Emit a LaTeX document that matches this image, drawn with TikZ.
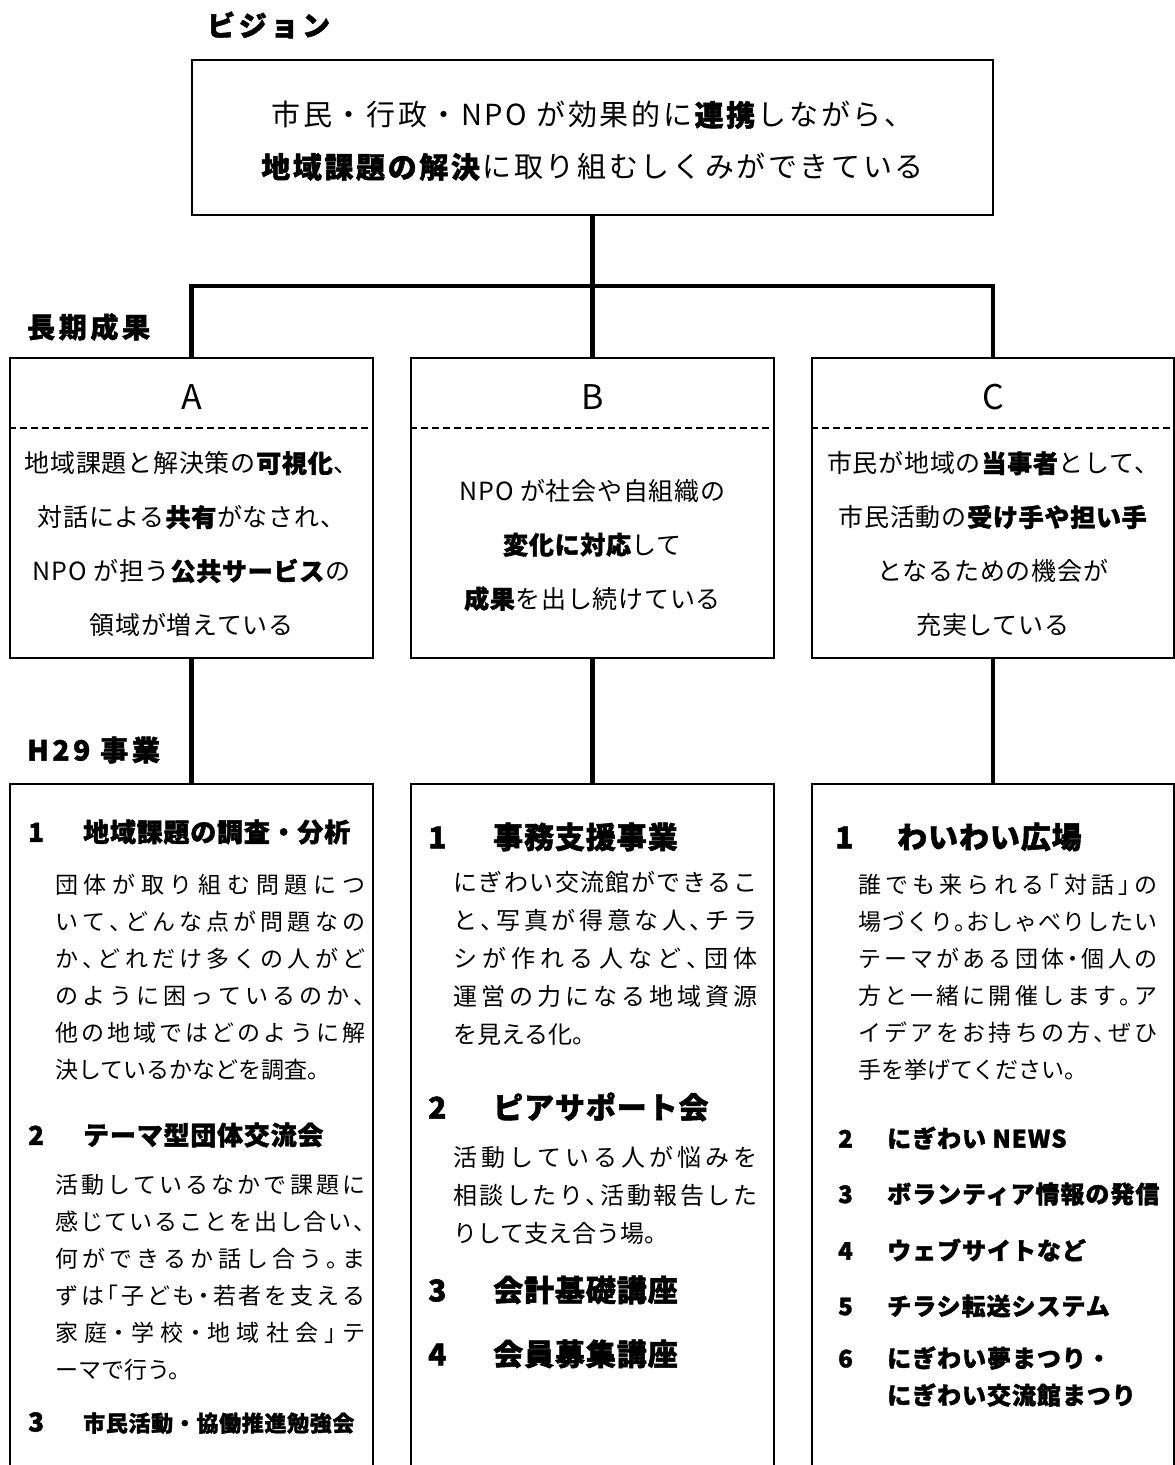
\documentclass[tikz,border=0pt]{standalone}
\usepackage{fontspec}
\usepackage{tikz}
\usetikzlibrary{positioning}
\newfontfamily\jp{Noto Sans CJK JP}[BoldFeatures={FakeBold=1.6}]
\newfontfamily\jpp{Noto Sans CJK JP}[RawFeature=+halt]
% justified line: glue between every character
\def\jl#1{\makebox[\linewidth][s]{\jlfirst#1\relax}}
\def\jlfirst#1{#1\jlrest}
\def\jlrest#1{\ifx#1\relax\else\hskip0pt plus 1fil#1\expandafter\jlrest\fi}
% number + title
\newcommand\numttl[3]{\makebox[#1][l]{#2}#3}

\begin{document}
\begin{tikzpicture}[x=1pt, y=-1pt,
    frame/.style={draw, line width=2pt, inner sep=0pt},
    side/.style={line width=2pt},
    conn/.style={line width=4.5pt},
    sep/.style={line width=1.5pt, dash pattern=on 7pt off 4pt},
    head/.style={anchor=west, inner sep=0pt, font=\jp\bfseries\fontsize{28}{34}\selectfont\addfontfeature{LetterSpace=13}},
    visiontext/.style={align=center, inner sep=0pt, font=\jp\fontsize{29}{52}\selectfont\addfontfeature{LetterSpace=9}},
    key/.style={inner sep=0pt, font=\jp\fontsize{34}{38}\selectfont},
    midtext/.style={align=center, inner sep=0pt, font=\jp\fontsize{25}{54}\selectfont\addfontfeature{LetterSpace=3}},
    ttl/.style={anchor=west, inner sep=0pt, font=\jp\bfseries\fontsize{26}{30}\selectfont\addfontfeature{LetterSpace=3}},
    ttlbig/.style={ttl, font=\jp\bfseries\fontsize{30}{34}\selectfont\addfontfeature{LetterSpace=3}},
    ttlsmall/.style={ttl, align=left, font=\jp\bfseries\fontsize{24}{37}\selectfont\addfontfeature{LetterSpace=4}},
    para/.style={anchor=west, inner sep=0pt, align=left, font=\jpp\fontsize{23}{37}\selectfont}
]
\useasboundingbox (0,0) rectangle (1175,1465);

% vision
\node[head] (visionLbl) at (207,25) {ビジョン};
\node[frame, minimum width=801pt, minimum height=155pt] (vision) at (592.5,137.5) {};
\node[visiontext] (visionTxt) at (592.5,141) {市民・行政・NPO が効果的に\textbf{連携}しながら、\\
  \textbf{地域課題の解決}に取り組むしくみができている};

% long-term outcomes
\node[head] (ltLbl) at (27,327) {長期成果};
\node[frame, minimum width=363pt, minimum height=300pt] (ltA) at (191.5,508) {};
\node[frame, minimum width=363pt, minimum height=300pt] (ltB) at (592.5,508) {};
\node[frame, minimum width=362pt, minimum height=300pt] (ltC) at (993,508) {};
\node[key] (ltAkey) at (191.5,397) {A};
\node[key] (ltBkey) at (592.5,397) {B};
\node[key] (ltCkey) at (993,397) {C};
\coordinate (dashY) at (0,428);
\draw[sep] (ltA.west |- dashY) -- (ltA.east |- dashY);
\draw[sep] (ltB.west |- dashY) -- (ltB.east |- dashY);
\draw[sep] (ltC.west |- dashY) -- (ltC.east |- dashY);
\node[midtext] (ltAtxt) at (191.5,544) {地域課題と解決策の\textbf{可視化}、\\
  対話による\textbf{共有}がなされ、\\
  NPO が担う\textbf{公共サービス}の\\
  領域が増えている};
\node[midtext] (ltBtxt) at (592.5,545) {NPO が社会や自組織の\\
  \textbf{変化に対応}して\\
  \textbf{成果}を出し続けている};
\node[midtext] (ltCtxt) at (993,544) {市民が地域の\textbf{当事者}として、\\
  市民活動の\textbf{受け手や担い手}\\
  となるための機会が\\
  充実している};

\coordinate (bus) at (0,286);
\draw[conn] (vision) -- (ltB);
\draw[conn] (ltA.north) -- (ltA.north |- bus) -- (ltC.north |- bus) -- (ltC.north);

% H29 projects
\node[head] (prjLbl) at (27,750) {H29 事業};
\node[minimum width=363pt, minimum height=681pt, inner sep=0pt] (prjA) at (191.5,1124.5) {};
\node[minimum width=363pt, minimum height=681pt, inner sep=0pt] (prjB) at (592.5,1124.5) {};
\node[minimum width=362pt, minimum height=681pt, inner sep=0pt] (prjC) at (993,1124.5) {};
\draw[side] (prjA.south west) |- (prjA.north east) -- (prjA.south east);
\draw[side] (prjB.south west) |- (prjB.north east) -- (prjB.south east);
\draw[side] (prjC.south west) |- (prjC.north east) -- (prjC.south east);
\draw[conn] (ltA) -- (prjA);
\draw[conn] (ltB) -- (prjB);
\draw[conn] (ltC) -- (prjC);

% column A
\node[ttl] (a1) at (28,832) {\numttl{55pt}{1}{地域課題の調査・分析}};
\node[para, text width=310pt] (a1txt) at (55,977.5) {\jl{団体が取り組む問題につ}\\
  \jl{いて、どんな点が問題なの}\\
  \jl{か、どれだけ多くの人がど}\\
  \jl{のように困っているのか、}\\
  \jl{他の地域ではどのように解}\\
  決しているかなどを調査。};
\node[ttl] (a2) at (28,1135) {\numttl{55pt}{2}{テーマ型団体交流会}};
\node[para, text width=310pt] (a2txt) at (55,1277.5) {\jl{活動しているなかで課題に}\\
  \jl{感じていることを出し合い、}\\
  \jl{何ができるか話し合う。ま}\\
  \jl{ずは「子ども・若者を支える}\\
  \jl{家庭・学校・地域社会」テ}\\
  ーマで行う。};
\node[ttl, font=\jp\bfseries\fontsize{22}{30}\selectfont\addfontfeature{LetterSpace=3}] (a3) at (28,1423) {\numttl{55pt}{\fontsize{26}{30}\selectfont 3}{市民活動・協働推進勉強会}};

% column B
\node[ttlbig] (b1) at (428,837) {\numttl{65pt}{1}{事務支援事業}};
\node[para, text width=304pt, font=\jpp\fontsize{24}{38}\selectfont] (b1txt) at (453,958) {\jl{にぎわい交流館ができるこ}\\
  \jl{と、写真が得意な人、チラ}\\
  \jl{シが作れる人など、団体}\\
  \jl{運営の力になる地域資源}\\
  を見える化。};
\node[ttlbig] (b2) at (428,1107) {\numttl{65pt}{2}{ピアサポート会}};
\node[para, text width=304pt, font=\jpp\fontsize{24}{38}\selectfont] (b2txt) at (453,1195) {\jl{活動している人が悩みを}\\
  \jl{相談したり、活動報告した}\\
  りして支え合う場。};
\node[ttlbig] (b3) at (428,1290) {\numttl{65pt}{3}{会計基礎講座}};
\node[ttlbig] (b4) at (428,1354) {\numttl{65pt}{4}{会員募集講座}};

% column C
\node[ttlbig] (c1) at (835,837) {\numttl{62pt}{1}{わいわい広場}};
\node[para, text width=299pt] (c1txt) at (858,977.5) {\jl{誰でも来られる「対話」の}\\
  \jl{場づくり。おしゃべりしたい}\\
  \jl{テーマがある団体・個人の}\\
  \jl{方と一緒に開催します。ア}\\
  \jl{イデアをお持ちの方、ぜひ}\\
  手を挙げてください。};
\node[ttlsmall] (c2) at (838,1138) {\numttl{49pt}{2}{にぎわい NEWS}};
\node[ttlsmall] (c3) at (838,1194) {\numttl{49pt}{3}{ボランティア情報の発信}};
\node[ttlsmall] (c4) at (838,1250) {\numttl{49pt}{4}{ウェブサイトなど}};
\node[ttlsmall] (c5) at (838,1306) {\numttl{49pt}{5}{チラシ転送システム}};
\node[ttlsmall] (c6) at (838,1376.5) {\numttl{49pt}{6}{にぎわい夢まつり・}\\
  \hspace*{49pt}にぎわい交流館まつり};
\end{tikzpicture}
\end{document}
